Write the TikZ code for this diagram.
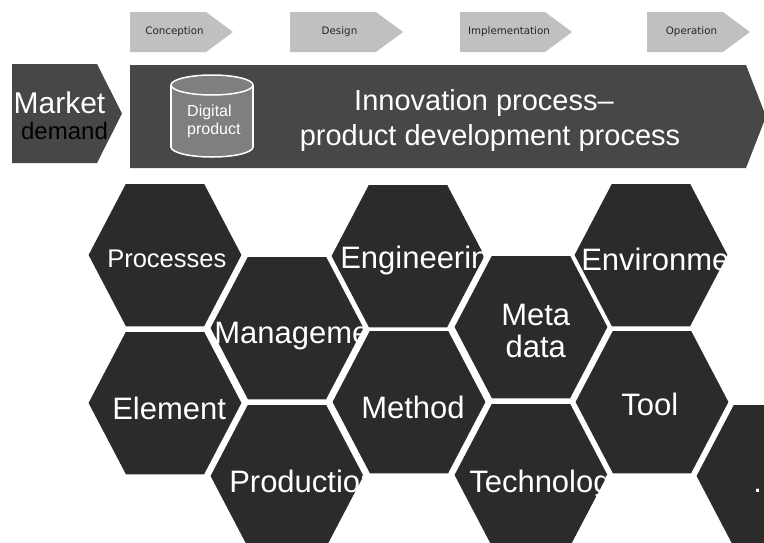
\documentclass[tikz,border=0pt]{standalone}
\usepackage{fontspec}
\setmainfont{Liberation Sans}
\newfontfamily\stagefont{DejaVu Sans}
\definecolor{hexgray}{HTML}{2B2B2B}
\definecolor{bandgray}{HTML}{474747}
\definecolor{stagegray}{HTML}{C0C0C0}
\definecolor{cylgray}{HTML}{7F7F7F}

% one cell of the honeycomb, its text is clipped to the cell
\newcommand{\hexcell}[5]{%
  \path[hexcell, path picture={\node[hextext,#4] (#1) at (path picture bounding box.center) {#5};}]
    (#2,#3) ++(-40,-72.5) -- ++(80,0) -- ++(38,72.5) -- ++(-38,72.5) -- ++(-80,0) -- ++(-38,-72.5) -- cycle;}

\begin{document}
\begin{tikzpicture}[x=1pt, y=-1pt,
    hexcell/.style={fill=hexgray, draw=white, line width=2.5pt},
    hextext/.style={anchor=base west, inner sep=0pt, text=white, font=\fontsize{31}{30}\selectfont},
    stagebox/.style={fill=stagegray},
    stagetext/.style={text=black!85, inner sep=0pt, font=\stagefont\fontsize{10.3}{12}\selectfont},
    bigtext/.style={anchor=base, inner sep=0pt, text=white, font=\fontsize{29}{32}\selectfont},
    cyltext/.style={anchor=base west, inner sep=0pt, text=white, font=\fontsize{16}{18}\selectfont}]
  \useasboundingbox (0,0) rectangle (764,542);
  \clip (0,0) rectangle (764,542);

  % phases
  \foreach \lft/\tip/\lbl/\nm in {130/233/Conception/conc, 290/403/Design/desi, 460/572/Implementation/impl, 647/750/Operation/oper} {
    \fill[stagebox] (\lft,12) -- (\tip-27,12) -- (\tip,32) -- (\tip-27,52) -- (\lft,52) -- cycle;
    \node[stagetext] (\nm) at ({(\lft+\tip)/2-7},32) {\lbl};
  }

  % market demand and the main process
  \fill[bandgray] (12,64) -- (97,64) -- (122,113.5) -- (97,163) -- (12,163) -- cycle;
  \node[bigtext, font=\fontsize{30}{32}\selectfont] (mkt) at (59.5,113) {Market};
  \node[bigtext, text=black, font=\fontsize{24}{28}\selectfont] (dmd) at (64.5,139) {demand};
  \fill[bandgray] (130,65) -- (746,65) -- (766,116.5) -- (746,168) -- (130,168) -- cycle;
  \node[bigtext] (inno) at (484,110) {Innovation process–};
  \node[bigtext] (pdp) at (490,145) {product development process};

  % digital product
  \filldraw[fill=cylgray, draw=white, line width=1.5pt] (212,147) ellipse [x radius=41, y radius=10];
  \fill[cylgray] (171,85) rectangle (253,147);
  \draw[white, line width=1.5pt] (171,85) -- (171,147) (253,85) -- (253,147);
  \filldraw[fill=cylgray, draw=white, line width=1.5pt] (212,85) ellipse [x radius=41, y radius=10];
  \node[cyltext] (dig) at (187,116) {Digital};
  \node[cyltext] (prd) at (187,134) {product};

  % honeycomb
  \hexcell{proc}{165}{255}{xshift=-59pt, yshift=-12pt, font=\fontsize{25.5}{28}\selectfont}{Processes}
  \hexcell{elem}{165}{403}{xshift=-54pt, yshift=-16pt}{Element}
  \hexcell{mgmt}{287}{328}{xshift=-74pt, yshift=-15pt}{Management}
  \hexcell{prod}{287}{476}{xshift=-59pt, yshift=-16pt}{Production}
  \hexcell{engi}{408}{256}{xshift=-69pt, yshift=-12pt}{Engineering}
  \hexcell{meth}{409}{402}{xshift=-49pt, yshift=-16pt}{Method}
  \hexcell{meta}{531}{327}{xshift=-31pt, yshift=-30pt}{\begin{tabular}[b]{@{}c@{}}Meta\\data\end{tabular}}
  \hexcell{tech}{531}{475}{xshift=-63pt, yshift=-17pt}{Technology}
  \hexcell{envi}{651}{255}{xshift=-71pt, yshift=-15pt}{Environment}
  \hexcell{tool}{652}{402}{xshift=-32pt, yshift=-13pt}{Tool}
  \hexcell{more}{773}{476}{xshift=-21pt, yshift=-16pt}{...}
\end{tikzpicture}
\end{document}
